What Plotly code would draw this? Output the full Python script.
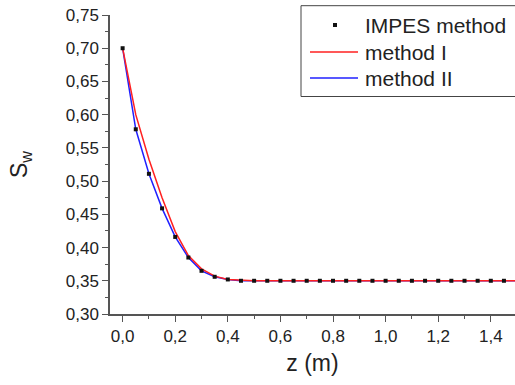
import plotly.graph_objects as go

z_pts = [0.00, 0.05, 0.10, 0.15, 0.20, 0.25, 0.30, 0.35, 0.40, 0.45, 0.50, 0.55, 0.60,
         0.65, 0.70, 0.75, 0.80, 0.85, 0.90, 0.95, 1.00, 1.05, 1.10, 1.15, 1.20, 1.25,
         1.30, 1.35, 1.40, 1.45]
impes = [0.700, 0.578, 0.511, 0.459, 0.416, 0.385, 0.365, 0.356, 0.352, 0.350, 0.350,
         0.350, 0.350, 0.350, 0.350, 0.350, 0.350, 0.350, 0.350, 0.350, 0.350, 0.350,
         0.350, 0.350, 0.350, 0.350, 0.350, 0.350, 0.350, 0.350]

z_line = [0.00, 0.05, 0.10, 0.15, 0.20, 0.25, 0.30, 0.35, 0.40, 0.45, 0.50, 0.60, 0.80,
          1.00, 1.20, 1.40, 1.50]
method_1 = [0.700, 0.600, 0.533, 0.475, 0.424, 0.388, 0.368, 0.357, 0.352, 0.3505, 0.350,
            0.350, 0.350, 0.350, 0.350, 0.350, 0.350]
method_2 = [0.700, 0.578, 0.511, 0.459, 0.416, 0.385, 0.365, 0.356, 0.352, 0.350, 0.350,
            0.350, 0.350, 0.350, 0.350, 0.350, 0.350]

x_ticks = [0.0, 0.2, 0.4, 0.6, 0.8, 1.0, 1.2, 1.4]
x_labels = ["0,0", "0,2", "0,4", "0,6", "0,8", "1,0", "1,2", "1,4"]
legend_names = ["IMPES method", "method I", "method II"]
legend_colors = ["#111111", "#ff2020", "#2020ff"]

W, H = 515, 385
ML, MR, MT, MB = 110, 0, 15, 71
PW, PH = W - ML - MR, H - MT - MB


def px(xp):
    return (xp - ML) / PW


def py(yp):
    return (H - MB - yp) / PH


fig = go.Figure()
fig.add_trace(go.Scatter(x=z_line, y=method_2, mode="lines", name=legend_names[2],
                         line=dict(color=legend_colors[2], width=1.5), showlegend=False))
fig.add_trace(go.Scatter(x=z_line, y=method_1, mode="lines", name=legend_names[1],
                         line=dict(color=legend_colors[1], width=1.5), showlegend=False))
fig.add_trace(go.Scatter(x=z_pts, y=impes, mode="markers", name=legend_names[0],
                         marker=dict(symbol="square", size=4, color=legend_colors[0]),
                         showlegend=False))

# custom legend (box, samples, labels)
shapes = [
    dict(type="rect", xref="paper", yref="paper", x0=px(301), x1=px(540),
         y0=py(96.5), y1=py(5.7), line=dict(color="#444444", width=1),
         fillcolor="white", layer="above"),
    dict(type="rect", xref="paper", yref="paper", x0=px(333), x1=px(337),
         y0=py(27), y1=py(23), line=dict(width=0), fillcolor=legend_colors[0],
         layer="above"),
    dict(type="line", xref="paper", yref="paper", x0=px(310), x1=px(358),
         y0=py(52), y1=py(52), line=dict(color=legend_colors[1], width=1.5),
         layer="above"),
    dict(type="line", xref="paper", yref="paper", x0=px(310), x1=px(358),
         y0=py(78), y1=py(78), line=dict(color=legend_colors[2], width=1.5),
         layer="above"),
]
annotations = [
    dict(text=name, xref="paper", yref="paper", x=px(363), y=py(yc),
         xanchor="left", yanchor="middle", showarrow=False,
         font=dict(size=21, color="#222222", family="Liberation Sans"))
    for name, yc in zip(legend_names, [26, 52, 78])
]

axis_common = dict(
    showgrid=False, zeroline=False, showline=True, linecolor="#555555", linewidth=1.5,
    ticks="outside", ticklen=6, tickwidth=1.2, tickcolor="#555555",
    tickfont=dict(size=17, color="#222222", family="Liberation Sans"),
)

fig.update_layout(
    width=W, height=H,
    margin=dict(l=ML, r=MR, t=MT, b=MB),
    paper_bgcolor="white", plot_bgcolor="white",
    separators=", ",
    showlegend=False,
    font=dict(family="Liberation Sans", color="#222222"),
    xaxis=dict(range=[-0.048, 1.492], tickmode="array",
               tickvals=x_ticks, ticktext=x_labels,
               minor=dict(dtick=0.1, tick0=0, ticks="outside", ticklen=3,
                          tickcolor="#555555"),
               title=dict(text="z (m)", font=dict(size=23, color="#222222"), standoff=10),
               **axis_common),
    yaxis=dict(range=[0.30, 0.75], dtick=0.05, tick0=0.30, tickformat=".2f",
               minor=dict(dtick=0.025, tick0=0.30, ticks="outside", ticklen=3,
                          tickcolor="#555555"),
               title=dict(text="S<sub>w</sub>", font=dict(size=23, color="#222222"),
                          standoff=32),
               **axis_common),
    shapes=shapes,
    annotations=annotations,
)

fig.write_html("out.html", config={"displayModeBar": False},
               post_script="document.body.style.margin='0';")
